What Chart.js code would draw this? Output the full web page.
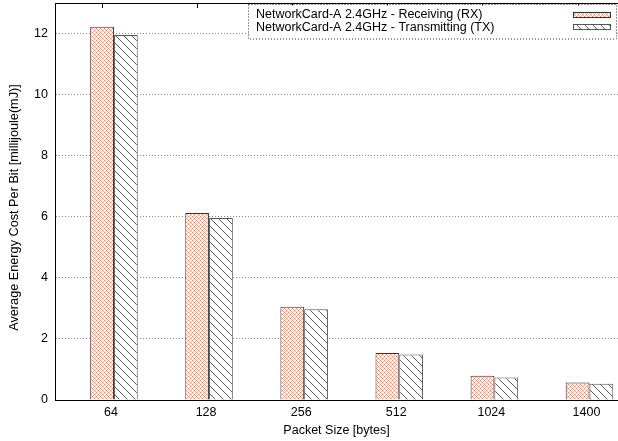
<!DOCTYPE html>
<html>
<head>
<meta charset="utf-8">
<script src="https://cdn.jsdelivr.net/npm/chart.js@4"></script>
<style>
  html, body { margin: 0; padding: 0; background: #fff; }
  #wrap { width: 618px; height: 441px; }
</style>
</head>
<body>
<div id="wrap"><canvas id="c" width="618" height="441"></canvas></div>
<script>
// Packet sizes on the x axis
const categories = ['64', '128', '256', '512', '1024', '1400'];
// Average energy cost per bit (mJ)
const rxValues = [12.22, 6.12, 3.05, 1.54, 0.79, 0.57];
const txValues = [11.95, 5.96, 2.97, 1.49, 0.74, 0.53];
// Y axis tick values
const yTicks = [0, 2, 4, 6, 8, 10, 12];
const seriesLabels = [
  'NetworkCard-A 2.4GHz - Receiving (RX)',
  'NetworkCard-A 2.4GHz - Transmitting (TX)'
];
const yTitle = 'Average Energy Cost Per Bit [millijoule(mJ)]';

const FONT = '"Liberation Sans", Arial, Helvetica, sans-serif';
const TEXT_SIZE = 12.5;

// Red cross-hatch fill
function makeCrossHatch() {
  const t = document.createElement('canvas');
  t.width = 4; t.height = 4;
  const g = t.getContext('2d');
  g.fillStyle = '#fff';
  g.fillRect(0, 0, 4, 4);
  g.fillStyle = '#f07a5c';
  g.fillRect(0, 0, 1, 1);
  g.fillRect(2, 2, 1, 1);
  g.fillStyle = '#f6b3a0';
  g.fillRect(1, 1, 1, 1);
  g.fillRect(3, 3, 1, 1);
  g.fillRect(1, 3, 1, 1);
  g.fillRect(3, 1, 1, 1);
  return g.createPattern(t, 'repeat');
}

// Grey back-slash hatch fill
function makeDiagHatch() {
  const s = 8;
  const t = document.createElement('canvas');
  t.width = s; t.height = s;
  const g = t.getContext('2d');
  g.fillStyle = '#fff';
  g.fillRect(0, 0, s, s);
  g.strokeStyle = '#5a5a5a';
  g.lineWidth = 1;
  g.beginPath();
  g.moveTo(-1, -1); g.lineTo(s + 1, s + 1);
  g.moveTo(-1, s - 1); g.lineTo(1, s + 1);
  g.moveTo(s - 1, -1); g.lineTo(s + 1, 1);
  g.stroke();
  return g.createPattern(t, 'repeat');
}

const rxFill = makeCrossHatch();
const txFill = makeDiagHatch();

// Frame, top tick marks, y title and the dotted key box
const framePlugin = {
  id: 'frame',
  afterDraw(chart) {
    const { ctx, chartArea: a } = chart;
    ctx.save();
    ctx.strokeStyle = '#000';
    ctx.lineWidth = 1;
    ctx.beginPath();
    ctx.moveTo(a.left, a.top + 0.5);
    ctx.lineTo(a.right, a.top + 0.5);
    ctx.stroke();
    // mirrored ticks along the top, at the first bar of each group
    const meta = chart.getDatasetMeta(0);
    ctx.beginPath();
    meta.data.forEach(bar => {
      const x = Math.round(bar.x) + 0.5;
      ctx.moveTo(x, a.top);
      ctx.lineTo(x, a.top + 5);
    });
    ctx.stroke();

    // y axis title, a little below the middle of the axis
    ctx.save();
    ctx.translate(14.5, (a.top + a.bottom) / 2 + 6);
    ctx.rotate(-Math.PI / 2);
    ctx.font = '12.7px ' + FONT;
    ctx.fillStyle = '#000';
    ctx.textAlign = 'center';
    ctx.textBaseline = 'middle';
    ctx.fillText(yTitle, 0, 0);
    ctx.restore();

    // key
    const bx = 248.5, by = 4.5, bw = 368, bh = 34.5;
    ctx.fillStyle = '#fff';
    ctx.fillRect(bx, by + 1, bw, bh - 1);
    ctx.setLineDash([1, 2]);
    ctx.strokeStyle = '#333';
    ctx.strokeRect(bx, by, bw, bh);
    ctx.setLineDash([]);
    ctx.font = TEXT_SIZE + 'px ' + FONT;
    ctx.fillStyle = '#000';
    ctx.textBaseline = 'middle';
    ctx.textAlign = 'left';
    const rows = [15, 27.5];
    chart.data.datasets.forEach((ds, i) => {
      ctx.fillText(ds.label, 256, rows[i]);
      const sy = Math.round(rows[i] - 3.5) + 0.5;
      ctx.fillStyle = ds.backgroundColor;
      ctx.fillRect(573.5, sy, 37, 5);
      ctx.strokeStyle = ds.borderColor;
      ctx.strokeRect(573.5, sy, 37, 5);
      ctx.fillStyle = '#000';
    });
    ctx.restore();
  }
};

new Chart(document.getElementById('c'), {
  type: 'bar',
  data: {
    datasets: [
      {
        label: seriesLabels[0],
        data: categories.map((c, i) => ({ x: i, y: rxValues[i] })),
        backgroundColor: rxFill,
        borderColor: '#333',
        borderWidth: 1,
        categoryPercentage: 0.5,
        barPercentage: 1.0
      },
      {
        label: seriesLabels[1],
        data: categories.map((c, i) => ({ x: i, y: txValues[i] })),
        backgroundColor: txFill,
        borderColor: '#555',
        borderWidth: 1,
        categoryPercentage: 0.5,
        barPercentage: 1.0
      }
    ]
  },
  options: {
    responsive: false,
    animation: false,
    devicePixelRatio: 1,
    layout: { padding: { top: 3, right: 0, left: 0, bottom: 0 } },
    plugins: {
      legend: { display: false },
      tooltip: { enabled: false }
    },
    scales: {
      x: {
        type: 'linear',
        offset: false,
        min: -0.62,
        max: 5.30,
        afterBuildTicks: s => { s.ticks = categories.map((c, i) => ({ value: i })); },
        afterFit: s => { s.height = 41; s.paddingLeft = 0; s.paddingRight = 0; },
        grid: { display: false, drawTicks: false, offset: false },
        border: { display: true, color: '#000', width: 1 },
        ticks: {
          callback: v => categories[v],
          color: '#000',
          font: { family: FONT, size: TEXT_SIZE },
          padding: 5,
          labelOffset: -3,
          maxRotation: 0,
          autoSkip: false
        },
        title: {
          display: true,
          text: 'Packet Size [bytes]',
          color: '#000',
          font: { family: FONT, size: TEXT_SIZE },
          padding: { top: 0, bottom: 3 }
        }
      },
      y: {
        min: 0,
        max: 13,
        afterBuildTicks: s => { s.ticks = yTicks.map(v => ({ value: v })); },
        afterFit: s => { s.width = 55; s.paddingTop = 0; s.paddingBottom = 0; },
        grid: { color: '#888', lineWidth: 1, drawTicks: false },
        border: { display: true, color: '#000', width: 1, dash: [1, 2] },
        ticks: {
          color: '#000',
          font: { family: FONT, size: TEXT_SIZE },
          padding: 7
        },
        title: { display: false }
      }
    }
  },
  plugins: [framePlugin]
});
</script>
</body>
</html>
